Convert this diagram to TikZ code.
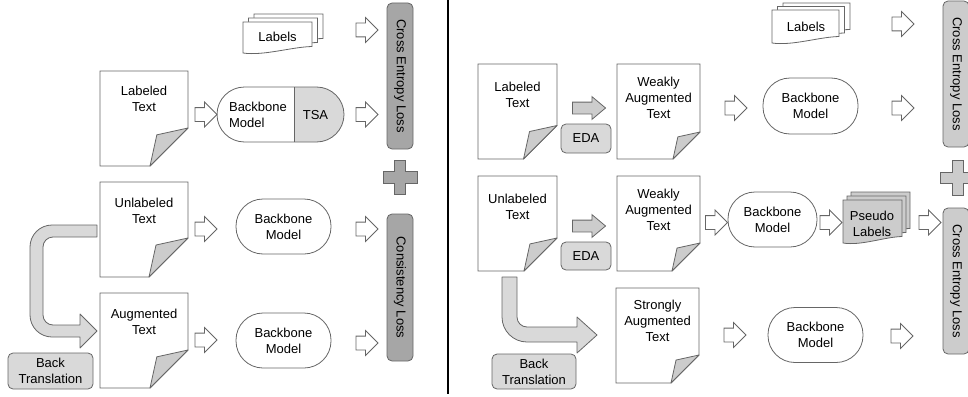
\documentclass[tikz,border=0pt]{standalone}
\usepackage{fontspec}
\setmainfont{Liberation Sans}
\usetikzlibrary{shapes.arrows}
\definecolor{ln}{HTML}{666666}
\definecolor{lg}{HTML}{D9D9D9}
\definecolor{mg}{HTML}{CCCCCC}
\definecolor{dg}{HTML}{A6A6A6}
% document page with folded corner: name, x0, y0, x1, y1, fold, text y, text
\newcommand{\docpage}[8]{%
  \draw[ln, fill=white] (#2,#3) -- (#4,#3) -- (#4,#5-#6) -- (#4-#6,#5) -- (#2,#5) -- cycle;
  \draw[ln, fill=mg, line join=round] (#4,#5-#6) -- (#4-0.82*#6,#5-0.82*#6) -- (#4-#6,#5) -- cycle;
  \node[align=center, inner sep=0pt] (#1) at ({(#2+#4)/2},#7) {#8};
}
% one sheet with a wavy bottom: x0, y0, x1, y1, fill
\newcommand{\wavysheet}[5]{%
  \draw[ln, fill=#5] (#1,#2) -- (#3,#2) -- (#3,#4-6.5)
    .. controls ({#3-0.3*(#3-#1)},#4-6) and ({#1+0.3*(#3-#1)},#4+3) .. (#1,#4) -- cycle;
}
% stack of three sheets: x0, y0, x1, y1, dx, dy, fill
\newcommand{\sheetstack}[7]{%
  \wavysheet{#1+2*#5}{#2-2*#6}{#3+2*#5}{#4-2*#6}{#7}
  \wavysheet{#1+#5}{#2-#6}{#3+#5}{#4-#6}{#7}
  \wavysheet{#1}{#2}{#3}{#4}{#7}
}
% plus sign: cx, cy, half size, half arm, fill
\newcommand{\plussign}[5]{%
  \draw[ln, fill=#5] (#1-#4,#2-#3) -- (#1+#4,#2-#3) -- (#1+#4,#2-#4) -- (#1+#3,#2-#4)
    -- (#1+#3,#2+#4) -- (#1+#4,#2+#4) -- (#1+#4,#2+#3) -- (#1-#4,#2+#3) -- (#1-#4,#2+#4)
    -- (#1-#3,#2+#4) -- (#1-#3,#2-#4) -- (#1-#4,#2-#4) -- cycle;
}
\begin{document}
\begin{tikzpicture}[x=1pt, y=-1pt, line width=0.8pt,
  font=\fontsize{13}{16}\selectfont,
  hollow/.style={single arrow, draw=ln, fill=white, minimum height=22pt,
    minimum width=24pt, single arrow head extend=5.5pt, inner xsep=0pt,
    inner ysep=6.5pt},
  fatarrow/.style={single arrow, draw=ln, fill=mg, minimum height=33pt,
    minimum width=22pt, single arrow head extend=5.5pt, inner xsep=0pt,
    inner ysep=5.5pt, single arrow tip angle=80},
  model/.style={rectangle, draw=ln, fill=white, rounded corners=27pt,
    minimum width=95pt, minimum height=55pt, align=center, inner sep=0pt},
  lossbox/.style={rectangle, draw=ln, rounded corners=5pt, minimum width=146pt,
    minimum height=26pt, inner sep=0pt, rotate=-90},
  opbox/.style={rectangle, draw=ln, fill=lg, rounded corners=5pt,
    align=center, inner sep=0pt},
  bigarrow/.style={draw=ln, fill=lg, line join=round}]
\useasboundingbox (0,0) rectangle (968,396);

% ================= LEFT PANEL =================
\sheetstack{243}{22}{312}{53}{5.5}{4}{white}
\node (labL) at (277.5,37) {Labels};
\node[hollow] (aL0) at (363.5,30) {};
\node[lossbox, fill=dg] (ceL) at (400,76) {Cross Entropy Loss};

\docpage{labtL}{100}{71}{188}{166}{38}{99}{Labeled\\Text}
\node[hollow] (aL1) at (202.5,114.5) {};
% backbone + TSA pill
\begin{scope}
  \clip (294,80) rectangle (350,150);
  \fill[lg, rounded corners=27.5pt] (217,87) rectangle (344,142);
\end{scope}
\draw[ln, rounded corners=27.5pt] (217,87) rectangle (344,142);
\draw[ln] (294,87) -- (294,142);
\node[align=left, inner sep=0pt] (bbL1) at (258,115) {Backbone\\Model};
\node (tsa) at (315.5,115) {TSA};
\node[hollow] (aL2) at (363.5,114.5) {};

\plussign{400}{177.5}{17}{5.75}{dg}

\docpage{unlL}{100}{182}{188}{277}{39}{210.5}{Unlabeled\\Text}
\node[hollow] (aL3) at (202.5,229) {};
\node[model] (bbL2) at (283.5,226.5) {Backbone\\Model};
\node[hollow] (aL4) at (363.5,229) {};
\node[lossbox, fill=dg, minimum width=147pt] (consL) at (400,287.5) {Consistency Loss};

\docpage{augL}{100}{293}{188}{388}{38}{322}{Augmented\\Text}
\node[hollow] (aL5) at (202.5,340) {};
\node[model] (bbL3) at (283.5,340.5) {Backbone\\Model};
\node[hollow] (aL6) at (363.5,343) {};

% back translation arrow (left)
\draw[bigarrow] (97,225) -- (52,225) arc[start angle=270, end angle=180, radius=22]
  -- (30,315) arc[start angle=180, end angle=90, radius=22]
  -- (80,337) -- (80,348) -- (97,331) -- (80,314) -- (80,325)
  -- (53,325) arc[start angle=90, end angle=180, radius=10]
  -- (43,247) arc[start angle=180, end angle=270, radius=10]
  -- (97,237) -- cycle;
\node[opbox, minimum width=85pt, minimum height=36pt] (btL) at (50.5,371) {Back\\Translation};

% divider
\draw[black, line width=1.5pt] (448,0) -- (448,394);

% ================= RIGHT PANEL =================
\sheetstack{772}{10}{839}{43}{5.5}{3.5}{white}
\node (labR) at (806,27) {Labels};
\node[hollow] (aR0) at (899.5,24) {};
\node[lossbox, fill=mg] (ceR1) at (956,74) {Cross Entropy Loss};

\docpage{labtR}{478}{64}{557}{159}{33.5}{95}{Labeled\\Text}
\node[fatarrow] (edaA1) at (585.5,108) {};
\node[opbox, minimum width=50pt, minimum height=29pt] (eda1) at (586,138.5) {EDA};
\docpage{weakR1}{617}{64}{700}{159}{27}{98}{Weakly\\Augmented\\Text}
\node[hollow] (aR1) at (732.5,108) {};
\node[model, minimum height=56pt] (bbR1) at (810.5,106) {Backbone\\Model};
\node[hollow] (aR2) at (899.5,108) {};

\plussign{957.5}{177.5}{17.5}{5.5}{mg}

\docpage{unlR}{478}{176}{557}{271}{33}{206.5}{Unlabeled\\Text}
\node[fatarrow] (edaA2) at (585.5,226) {};
\node[opbox, minimum width=50pt, minimum height=28pt] (eda2) at (586,256) {EDA};
\docpage{weakR2}{617}{176}{700}{271}{28}{210}{Weakly\\Augmented\\Text}
\node[hollow] (aR3) at (713,222.5) {};
\node[model, minimum width=89pt] (bbR2) at (772.5,219.5) {Backbone\\Model};
\node[hollow] (aR4) at (827.5,222.5) {};
\sheetstack{843}{200}{902}{243}{4}{4}{mg}
\node[align=center, inner sep=0pt] (pseudo) at (872,224) {Pseudo\\Labels};
\node[hollow] (aR5) at (926.5,222.5) {};
\node[lossbox, fill=mg] (ceR2) at (956,281) {Cross Entropy Loss};

% back translation arrow (right)
\draw[bigarrow] (502,277) -- (502,317) arc[start angle=180, end angle=90, radius=25]
  -- (577,342) -- (577,353) -- (597,335) -- (577,317) -- (577,327)
  -- (527,327) arc[start angle=90, end angle=180, radius=10]
  -- (517,277) -- cycle;
\node[opbox, minimum width=84pt, minimum height=35pt] (btR) at (534,371.5) {Back\\Translation};

\docpage{strR}{616}{288}{699}{383}{28}{321}{Strongly\\Augmented\\Text}
\node[hollow] (aR6) at (731.5,335) {};
\node[model] (bbR3) at (815.5,335) {Backbone\\Model};
\node[hollow] (aR7) at (898.5,336) {};
\end{tikzpicture}
\end{document}
